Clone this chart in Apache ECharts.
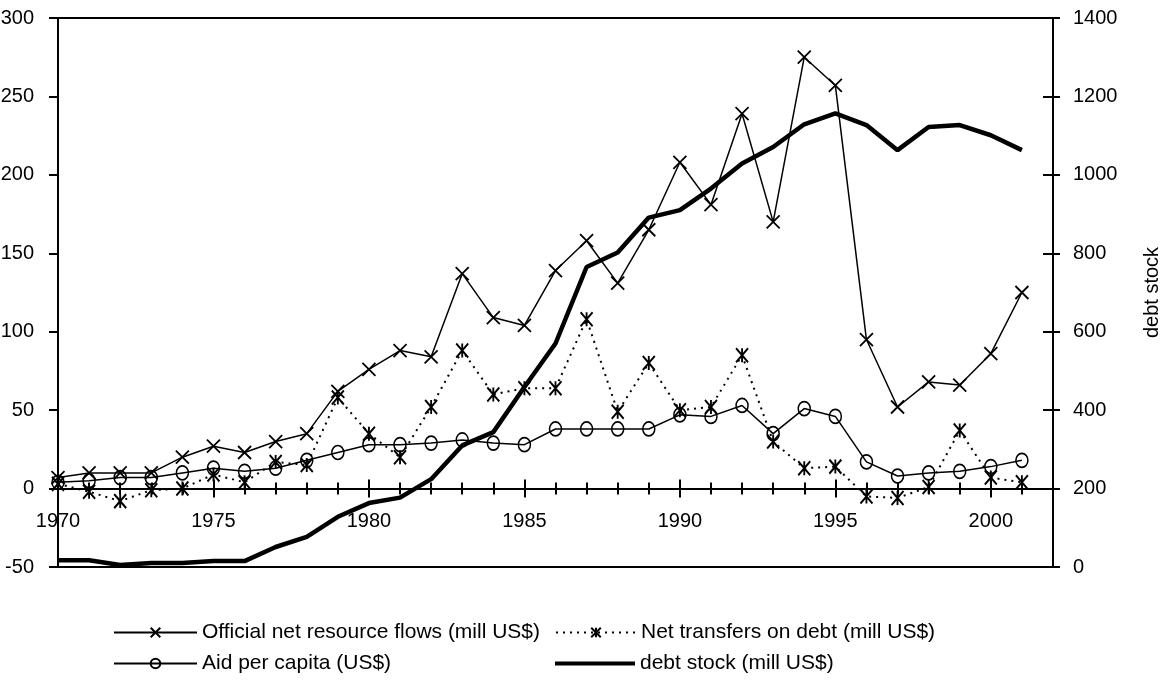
<!DOCTYPE html>
<html>
<head>
<meta charset="utf-8">
<title>Official flows, net transfers, aid per capita and debt stock</title>
<script src="https://cdn.jsdelivr.net/npm/echarts@6/dist/echarts.min.js"></script>
<style>
  html, body { margin: 0; padding: 0; background: #fff; }
  #chart { width: 1160px; height: 680px; }
</style>
</head>
<body>
<div id="chart"></div>
<script>
// years on the x axis
const years = [1970, 1971, 1972, 1973, 1974, 1975, 1976, 1977, 1978, 1979,
  1980, 1981, 1982, 1983, 1984, 1985, 1986, 1987, 1988, 1989,
  1990, 1991, 1992, 1993, 1994, 1995, 1996, 1997, 1998, 1999, 2000, 2001]

// left axis series
const officialFlows = [7, 10, 10, 10, 20, 27, 23, 30, 35, 62,
  76, 88, 84, 137, 109, 104, 139, 158, 131, 165,
  208, 181, 239, 170, 275, 257, 95, 52, 68, 66, 86, 125]
const netTransfers = [3, -2, -8, -1, 0, 9, 4, 17, 15, 58,
  35, 20, 52, 88, 60, 64, 64, 108, 49, 80,
  50, 52, 85, 30, 13, 14, -5, -6, 1, 37, 7, 4]
const aidPerCapita = [4, 5, 7, 7, 10, 13, 11, 13, 18, 23,
  28, 28, 29, 31, 29, 28, 38, 38, 38, 38,
  47, 46, 53, 35, 51, 46, 17, 8, 10, 11, 14, 18]

// right axis series
const debtStock = [17, 17, 5, 10, 10, 15, 15, 51, 77, 128,
  163, 177, 224, 310, 344, 459, 570, 765, 802, 891,
  910, 965, 1029, 1071, 1129, 1157, 1127, 1063, 1122, 1127, 1101, 1063]

const names = [
  'Official net resource flows (mill US$)',
  'Net transfers on debt (mill US$)',
  'Aid per capita (US$)',
  'debt stock (mill US$)'
]

const font = 'Liberation Sans, Arial, sans-serif'
const crossPath = 'path://M0 0L10 10M10 0L0 10'
const starPath = 'path://M0 0L10 12M10 0L0 12M5 0L5 12'

function pairs(arr) {
  return years.map((y, i) => [y, arr[i]])
}

const chart = echarts.init(document.getElementById('chart'), null, { renderer: 'canvas' })

const legendBase = {
  orient: 'horizontal',
  padding: 0,
  itemHeight: 12,
  itemGap: 5,
  selectedMode: false,
  textStyle: { fontFamily: font, fontSize: 21, color: '#000' }
}

chart.setOption({
  animation: false,
  backgroundColor: '#fff',
  textStyle: { fontFamily: font, color: '#000' },
  grid: {
    left: 58,
    right: 107,
    top: 18,
    bottom: 113,
    outerBoundsMode: 'none',
    containLabel: false,
    show: true,
    borderColor: '#000',
    borderWidth: 2,
    backgroundColor: 'transparent'
  },
  legend: [
    Object.assign({}, legendBase, { data: [names[0]], left: 113, top: 622, itemWidth: 83 }),
    Object.assign({}, legendBase, { data: [names[1]], left: 555, top: 622, itemWidth: 80 }),
    Object.assign({}, legendBase, { data: [names[2]], left: 113, top: 653, itemWidth: 83 }),
    Object.assign({}, legendBase, {
      data: [{ name: names[3], icon: 'rect' }],
      left: 555, top: 653, itemWidth: 80, itemHeight: 4
    })
  ],
  xAxis: [
    {
      type: 'value',
      position: 'bottom',
      min: 1970,
      max: 2002,
      interval: 5,
      axisLine: { onZero: true, onZeroAxisIndex: 0, lineStyle: { color: '#000', width: 2 } },
      axisTick: { show: true, length: 9, lineStyle: { color: '#000', width: 2 } },
      minorTick: { show: true, splitNumber: 5, length: 6, lineStyle: { color: '#000', width: 2 } },
      splitLine: { show: false },
      minorSplitLine: { show: false },
      axisLabel: {
        // labels sit just under the zero line, not at the grid bottom
        margin: -56,
        fontSize: 20,
        fontFamily: font,
        color: '#000',
        formatter: v => (v % 5 === 0 ? String(v) : '')
      }
    },
    {
      // upper half of the crossing ticks
      type: 'value',
      position: 'top',
      min: 1970,
      max: 2002,
      interval: 5,
      axisLine: { onZero: true, onZeroAxisIndex: 0, lineStyle: { color: '#000', width: 2 } },
      axisTick: { show: true, length: 9, lineStyle: { color: '#000', width: 2 } },
      minorTick: { show: true, splitNumber: 5, length: 6, lineStyle: { color: '#000', width: 2 } },
      splitLine: { show: false },
      axisLabel: { show: false }
    }
  ],
  yAxis: [
    {
      type: 'value',
      position: 'left',
      min: -50,
      max: 300,
      interval: 50,
      axisLine: { show: true, onZero: false, lineStyle: { color: '#000', width: 2 } },
      axisTick: { show: true, length: 9, lineStyle: { color: '#000', width: 2 } },
      splitLine: { show: false },
      axisLabel: { margin: 24, fontSize: 20, fontFamily: font, color: '#000' }
    },
    {
      type: 'value',
      position: 'right',
      min: 0,
      max: 1400,
      interval: 200,
      name: 'debt stock',
      nameLocation: 'middle',
      nameRotate: 90,
      nameGap: 89,
      nameTextStyle: { fontSize: 20, fontFamily: font, color: '#000' },
      axisLine: { show: true, onZero: false, lineStyle: { color: '#000', width: 2 } },
      axisTick: { show: true, length: 7, lineStyle: { color: '#000', width: 2 } },
      splitLine: { show: false },
      axisLabel: { margin: 20, fontSize: 20, fontFamily: font, color: '#000', formatter: v => String(v) }
    },
    {
      // inner half of the right-hand ticks
      type: 'value',
      position: 'right',
      min: 0,
      max: 1400,
      interval: 200,
      axisLine: { show: false, onZero: false },
      axisTick: { show: true, inside: true, length: 10, lineStyle: { color: '#000', width: 2 } },
      splitLine: { show: false },
      axisLabel: { show: false }
    }
  ],
  series: [
    {
      name: names[3],
      type: 'line',
      yAxisIndex: 1,
      data: pairs(debtStock),
      showSymbol: false,
      symbol: 'none',
      lineStyle: { color: '#000', width: 4.5 },
      itemStyle: { color: '#000' },
      z: 2
    },
    {
      name: names[0],
      type: 'line',
      data: pairs(officialFlows),
      symbol: crossPath,
      symbolSize: 13,
      lineStyle: { color: '#000', width: 1.5 },
      itemStyle: { color: 'rgba(0,0,0,0)', borderColor: '#000', borderWidth: 1.8 },
      z: 3
    },
    {
      name: names[1],
      type: 'line',
      data: pairs(netTransfers),
      symbol: starPath,
      symbolSize: [12, 14],
      lineStyle: { color: '#000', width: 2, type: [2, 5] },
      itemStyle: { color: 'rgba(0,0,0,0)', borderColor: '#000', borderWidth: 2 },
      z: 3
    },
    {
      name: names[2],
      type: 'line',
      data: pairs(aidPerCapita),
      symbol: 'circle',
      symbolSize: [12, 14],
      lineStyle: { color: '#000', width: 1.5 },
      itemStyle: { color: 'rgba(0,0,0,0)', borderColor: '#000', borderWidth: 1.6 },
      z: 3
    }
  ]
})
</script>
</body>
</html>
